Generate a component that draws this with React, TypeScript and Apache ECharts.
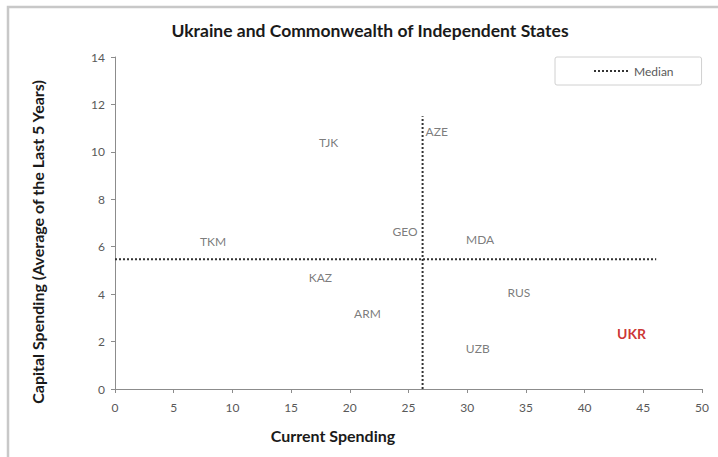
import React, { useEffect, useRef } from "react";
import * as echarts from "echarts";

const countries = ["AZE", "TJK", "TKM", "GEO", "KAZ", "MDA", "RUS", "UZB", "UKR", "ARM"];
const currentSpending = [27.4, 18.2, 8.35, 24.7, 17.5, 31.1, 34.4, 30.9, 44.0, 21.5];
const capitalSpending = [10.85, 10.38, 6.21, 6.63, 4.69, 6.31, 4.06, 1.72, 2.35, 3.2];
const medianX = 26.2;
const medianY = 5.47;
const maxY = 11.5;
const maxX = 46.1;
const xTicks = [0, 50, 5];
const yTicks = [0, 14, 2];

const FONT = "Lato, 'Open Sans', sans-serif";

export default function App() {
  const ref = useRef<HTMLDivElement>(null);
  useEffect(() => {
    if (!ref.current) return;
    const chart = echarts.init(ref.current, undefined, { renderer: "svg" });
    const points = countries.map((c, i) => {
      const d: any = { name: c, value: [currentSpending[i], capitalSpending[i]] };
      if (c === "UKR") {
        d.label = { color: "#c00000", fontWeight: "bold", fontSize: 14 };
      }
      return d;
    });
    chart.setOption({
      animation: false,
      textStyle: { fontFamily: FONT },
      grid: { left: 115, right: 16, top: 57, bottom: 68, containLabel: false, outerBoundsMode: "none" },
      legend: {
        data: ["Median"],
        left: 555,
        top: 57,
        padding: [8, 28, 8, 38],
        itemWidth: 35,
        itemHeight: 14,
        itemGap: 5,
        borderColor: "#d0d0d0",
        borderWidth: 1,
        borderRadius: 2,
        textStyle: { color: "#595959", fontSize: 12, fontFamily: FONT },
        itemStyle: { color: "rgba(0,0,0,0)", borderWidth: 0, opacity: 0 },
        lineStyle: { type: "dotted", width: 2, color: "#333" },
      },
      xAxis: {
        type: "value",
        min: xTicks[0],
        max: xTicks[1],
        interval: xTicks[2],
        splitLine: { show: false },
        axisLine: { show: true, lineStyle: { color: "#8c8c8c", width: 1 } },
        axisTick: { show: true, length: 4, lineStyle: { color: "#8c8c8c" } },
        axisLabel: { color: "#595959", fontSize: 12, margin: 12, fontFamily: FONT },
      },
      yAxis: {
        type: "value",
        min: yTicks[0],
        max: yTicks[1],
        interval: yTicks[2],
        splitLine: { show: false },
        axisLine: { show: true, lineStyle: { color: "#8c8c8c", width: 1 } },
        axisTick: { show: true, length: 4, lineStyle: { color: "#8c8c8c" } },
        axisLabel: { color: "#595959", fontSize: 12, margin: 10, fontFamily: FONT },
      },
      graphic: [
        {
          type: "rect",
          shape: { x: 8, y: 7, width: 800, height: 600 },
          style: { fill: "none", stroke: "#c8c8c8", lineWidth: 2.5 },
          silent: true,
        },
        {
          type: "text",
          x: 370,
          y: 30,
          style: {
            text: "Ukraine and Commonwealth of Independent States",
            fill: "#1a1a1a",
            font: `bold 17.5px ${FONT}`,
            textAlign: "center",
            textVerticalAlign: "middle",
          },
        },
        {
          type: "text",
          x: 333,
          y: 435,
          style: {
            text: "Current Spending",
            fill: "#1a1a1a",
            font: `bold 16px ${FONT}`,
            textAlign: "center",
            textVerticalAlign: "middle",
          },
        },
        {
          type: "text",
          x: 37,
          y: 242,
          rotation: Math.PI / 2,
          style: {
            text: "Capital Spending (Average of the Last 5 Years)",
            fill: "#1a1a1a",
            font: `bold 16px ${FONT}`,
            textAlign: "center",
            textVerticalAlign: "middle",
          },
        },
      ],
      series: [
        {
          type: "scatter",
          name: "Countries",
          data: points,
          symbolSize: 4,
          itemStyle: { color: "rgba(0,0,0,0)" },
          label: {
            show: true,
            position: "inside",
            formatter: "{b}",
            color: "#595959",
            fontSize: 12,
            fontFamily: FONT,
          },
          silent: true,
        },
        {
          type: "line",
          name: "Median",
          data: [
            [medianX, 0],
            [medianX, maxY],
          ],
          symbol: "none",
          lineStyle: { type: "dotted", width: 2, color: "#333" },
          itemStyle: { color: "#333" },
          silent: true,
        },
        {
          type: "line",
          name: "Median",
          data: [
            [0, medianY],
            [maxX, medianY],
          ],
          symbol: "none",
          lineStyle: { type: "dotted", width: 2, color: "#333" },
          itemStyle: { color: "#333" },
          silent: true,
        },
      ],
    });
    return () => chart.dispose();
  }, []);
  return (
    <div
      ref={ref}
      style={{ position: "absolute", left: 0, top: 0, width: 718, height: 457, background: "#fff" }}
    />
  );
}
